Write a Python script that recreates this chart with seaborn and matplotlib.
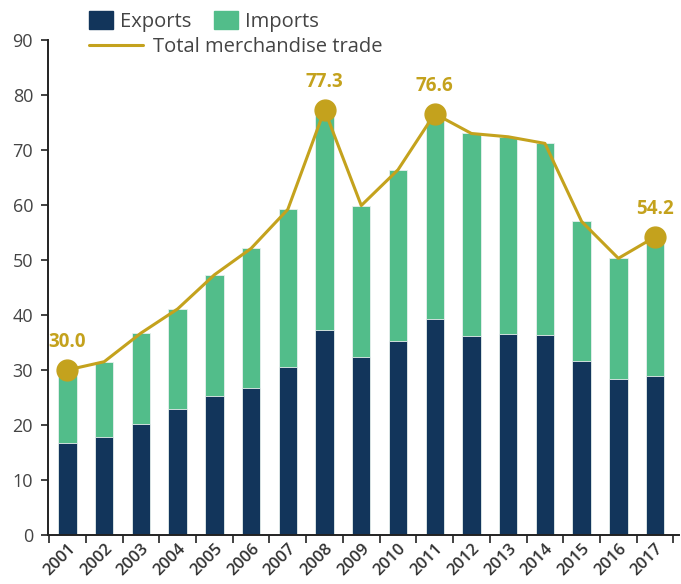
import numpy as np
import pandas as pd
import seaborn as sns
import matplotlib.pyplot as plt
from matplotlib.patches import Patch
from matplotlib.lines import Line2D

years = [str(y) for y in range(2001, 2018)]
exports = [16.7, 17.8, 20.2, 22.9, 25.3, 26.7, 30.5, 37.2, 32.4, 35.2, 39.3, 36.2, 36.6, 36.4, 31.7, 28.4, 28.9]
imports = [13.3, 13.7, 16.5, 18.2, 22.0, 25.4, 28.7, 40.1, 27.5, 31.2, 37.3, 36.8, 35.8, 34.8, 25.3, 21.9, 25.3]
labelled_years = ["2001", "2008", "2011", "2017"]

navy = "#12355b"
green = "#52bd8a"
gold = "#c4a21d"
grey = "#444444"

df = pd.DataFrame({"year": years, "exports": exports, "imports": imports})
df["total"] = df["exports"] + df["imports"]
df["pos"] = np.arange(len(df))

sns.set_style("white")
plt.rcParams["font.family"] = ["Open Sans", "DejaVu Sans"]

fig = plt.figure(figsize=(6.81, 5.84), dpi=100)
ax = fig.add_axes([0.071, 0.084, 0.926, 0.8475])

# stacked bars: total in green, exports drawn over it
sns.barplot(data=df, x="year", y="total", color=green, width=0.5,
            saturation=1, edgecolor="#e8f0ee", linewidth=0.6, ax=ax)
sns.barplot(data=df, x="year", y="exports", color=navy, width=0.5,
            saturation=1, edgecolor="#e8f0ee", linewidth=0.6, ax=ax)

sns.lineplot(x=df["pos"], y=df["total"], color=gold, linewidth=2.2, ax=ax)

lab = df[df["year"].isin(labelled_years)]
ax.plot(lab["pos"], lab["total"], "o", color=gold, markersize=15, zorder=5)
for _, r in lab.iterrows():
    ax.annotate(f"{r['total']:.1f}", (r["pos"], r["total"]), xytext=(0, 13),
                textcoords="offset points", ha="center", va="bottom",
                color=gold, fontsize=13.5, fontweight="bold")

ax.set_ylim(0, 90)
ax.set_yticks(range(0, 91, 10))
ax.set_xlim(-0.52, 16.65)
ax.set_xlabel("")
ax.set_ylabel("")

# labels under bars, tick marks between categories
ax.set_xticks(np.arange(len(df)))
ax.set_xticklabels(years, rotation=45, ha="right", rotation_mode="anchor",
                   fontsize=12, color="#333333", fontweight="semibold")
ax.tick_params(axis="x", which="major", bottom=True, length=0, pad=4)
ax.set_xticks(np.arange(len(df) + 1) - 0.5, minor=True)
ax.tick_params(axis="x", which="minor", bottom=True, length=6, width=1.2,
               color="#222222", direction="out")
ax.tick_params(axis="y", left=True, length=5, width=1.2, color="#222222",
               direction="out", labelsize=13, labelcolor=grey, pad=6)
sns.despine(ax=ax)
for s in ["left", "bottom"]:
    ax.spines[s].set_color("#222222")
    ax.spines[s].set_linewidth(1.4)

h1 = [Patch(color=navy, label="Exports"), Patch(color=green, label="Imports")]
fig.legend(handles=h1, loc="upper left", bbox_to_anchor=(0.104, 1.012),
           ncol=2, frameon=False, fontsize=14.5, handlelength=1.2,
           handleheight=1.0, handletextpad=0.35, columnspacing=1.1,
           labelcolor=grey)
h2 = [Line2D([], [], color=gold, linewidth=2.2, label="Total merchandise trade")]
fig.legend(handles=h2, loc="upper left", bbox_to_anchor=(0.104, 0.968),
           frameon=False, fontsize=14.5, handlelength=2.7, handletextpad=0.5,
           labelcolor=grey)

fig.savefig("out.png", dpi=100)
